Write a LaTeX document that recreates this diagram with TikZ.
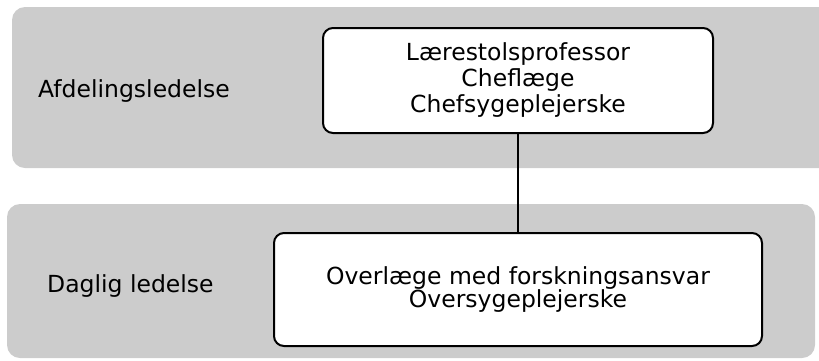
\documentclass[tikz,border=0pt]{standalone}
\usepackage{fontspec}
\setmainfont{DejaVu Sans}
\definecolor{bandgrey}{RGB}{204,204,204}
\tikzset{
  band/.style={fill=bandgrey, rounded corners=13pt},
  rolebox/.style={draw, line width=2pt, fill=white, rounded corners=10pt, align=center, inner sep=0pt},
  levellabel/.style={anchor=base west, inner sep=0pt},
}

\begin{document}
\begin{tikzpicture}[x=1pt, y=-1pt, font=\fontsize{23.5}{26}\selectfont]
      \path[use as bounding box, clip] (0,0) rectangle (819,360);
      % bands
      \fill[band] (12,7) rectangle (845,168);
      \fill[band] (7,204) rectangle (815,358);
      % levels
      \node[levellabel] (afd) at (38,97) {Afdelingsledelse};
      \node[levellabel] (daglig) at (47,292) {Daglig ledelse};
      % boxes
      \node[rolebox, minimum width=390pt, minimum height=105pt] (chef) at (518,80.5)
        {Lærestolsprofessor\\Cheflæge\\Chefsygeplejerske};
      \node[rolebox, minimum width=488pt, minimum height=113pt,
        font=\fontsize{23.5}{21}\selectfont] (over) at (518,289.5)
        {Overlæge med forskningsansvar\\Oversygeplejerske};
      % link
      \draw[line width=2pt] (chef) -- (over);
\end{tikzpicture}
\end{document}
